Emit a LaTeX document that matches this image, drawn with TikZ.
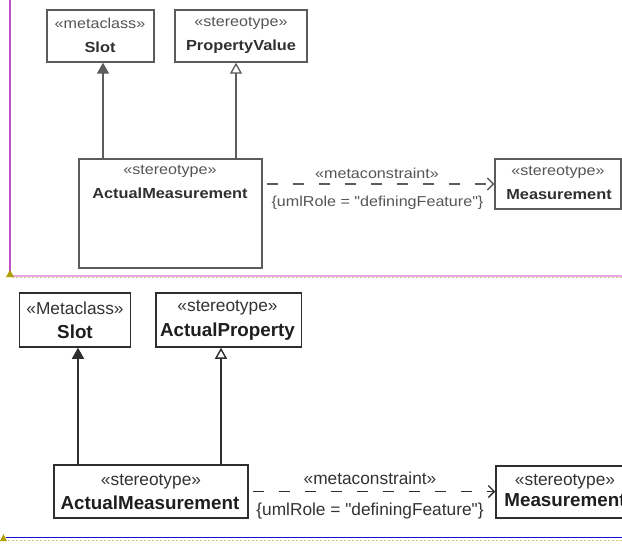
\documentclass[tikz,border=0pt]{standalone}
\usepackage{fontspec}
\setmainfont{Liberation Sans}
\newfontfamily\topf[FakeStretch=1.12]{Liberation Sans}
\newfontfamily\botf{Liberation Sans}
\usetikzlibrary{arrows.meta}
\definecolor{tline}{HTML}{5C5C5C}
\definecolor{tster}{HTML}{555555}
\definecolor{tname}{HTML}{303030}
\definecolor{bline}{HTML}{2E2E2E}
\definecolor{bster}{HTML}{333333}
\definecolor{bname}{HTML}{1E1E1E}
\definecolor{magline}{HTML}{C050C8}
\definecolor{pinkline}{HTML}{E8A8E8}
\definecolor{tanline}{HTML}{D8C880}
\definecolor{olive}{HTML}{B0A000}
\definecolor{blueline}{HTML}{1010D0}
\tikzset{
  tbox/.style={draw=tline, line width=1.4pt, fill=white, rectangle, inner sep=0pt},
  bbox/.style={draw=bline, line width=1.5pt, fill=white, rectangle, inner sep=0pt},
  tster/.style={font=\topf\fontsize{14.4}{16}\selectfont, text=tster, inner sep=0pt},
  tname/.style={font=\topf\bfseries\fontsize{14.6}{16}\selectfont, text=tname, inner sep=0pt},
  bster/.style={font=\botf\fontsize{17.3}{19}\selectfont, text=bster, inner sep=0pt},
  bname/.style={font=\botf\bfseries\fontsize{18.8}{20}\selectfont, text=bname, inner sep=0pt},
  tconn/.style={draw=tline, line width=1.3pt},
  bconn/.style={draw=bline, line width=1.4pt},
  fgen/.style={-{Triangle[length=11pt,width=12pt]}},
  hgen/.style={-{Triangle[open,length=11pt,width=12pt,fill=white]}},
  dep/.style={dash pattern=on 11pt off 15pt, -{Straight Barb[length=6pt,width=12pt]}, shorten <=4pt},
}
\begin{document}
\begin{tikzpicture}[x=1pt,y=-1pt]
\clip (0,0) rectangle (622,544);
\fill[white] (0,0) rectangle (622,544);

% ---------- separators ----------
\draw[magline, line width=2pt] (10,0) -- (10,272);
\draw[pinkline, line width=1.3pt] (12,276) -- (622,276);
\draw[tanline, line width=1pt, dash pattern=on 2pt off 2pt] (12,277.8) -- (622,277.8);
\fill[olive] (6,277) -- (10,270) -- (14,277) -- cycle;
\draw[blueline, line width=1.4pt] (6,537.3) -- (622,537.3);
\draw[tanline, line width=1.2pt, dash pattern=on 2pt off 2pt] (0,540.8) -- (622,540.8);
\fill[olive] (0,541) -- (3.5,534) -- (7,541) -- cycle;

% ---------- top diagram ----------
\node[tbox, minimum width=107pt, minimum height=52pt] (slotA) at (100.5,36) {};
\node[tster] (slotAs) at (100,23.5) {«metaclass»};
\node[tname] (slotAn) at (100,47) {Slot};

\node[tbox, minimum width=132pt, minimum height=52pt] (pvA) at (241,36) {};
\node[tster] (pvAs) at (241,23.5) {«stereotype»};
\node[tname] (pvAn) at (241,47) {PropertyValue};

\node[tbox, minimum width=183pt, minimum height=109pt] (amA) at (170.5,213.5) {};
\node[tster] (amAs) at (170,171.5) {«stereotype»};
\node[tname] (amAn) at (170,193.5) {ActualMeasurement};

\node[tbox, minimum width=126pt, minimum height=50pt] (measA) at (558,184) {};
\node[tster] (measAs) at (558,172.5) {«stereotype»};
\node[tname] (measAn) at (559,195) {Measurement};

\coordinate (xA1) at (103,0);
\coordinate (xA2) at (236,0);
\draw[tconn, fgen, fill=tline] (amA.north -| xA1) -- (slotA.south -| xA1);
\draw[tconn, hgen] (amA.north -| xA2) -- (pvA.south -| xA2);
\draw[tconn, dep] (amA.east |- measA.west) -- (measA.west);
\node[tster] (mcA) at (377,173) {«metaconstraint»};
\node[tster] (urA) at (377.5,202.5) {\{umlRole = "definingFeature"\}};

% ---------- bottom diagram ----------
\node[bbox, minimum width=111pt, minimum height=54pt] (slotB) at (75,320) {};
\node[bster] (slotBs) at (75,308) {«Metaclass»};
\node[bname] (slotBn) at (75,331.5) {Slot};

\node[bbox, minimum width=145.5pt, minimum height=54pt] (apB) at (228.75,320) {};
\node[bster] (apBs) at (227.5,308) {«stereotype»};
\node[bname] (apBn) at (227.5,331.5) {ActualProperty};

\node[bbox, minimum width=194pt, minimum height=53pt] (amB) at (151,491.5) {};
\node[bster] (amBs) at (151,481.7) {«stereotype»};
\node[bname] (amBn) at (150,503) {ActualMeasurement};

\node[bbox, minimum width=138pt, minimum height=52pt] (measB) at (565,492) {};
\node[bster] (measBs) at (565,481.7) {«stereotype»};
\node[bname] (measBn) at (565,500) {Measurement};

\coordinate (xB1) at (78,0);
\coordinate (xB2) at (221,0);
\draw[bconn, fgen, fill=bline] (amB.north -| xB1) -- (slotB.south -| xB1);
\draw[bconn, hgen] (amB.north -| xB2) -- (apB.south -| xB2);
\draw[bconn, dep] (amB.east) -- (measB.west |- amB.east);
\node[bster] (mcB) at (370,478) {«metaconstraint»};
\node[bster] (urB) at (370,511) {\{umlRole = "definingFeature"\}};
\end{tikzpicture}
\end{document}
